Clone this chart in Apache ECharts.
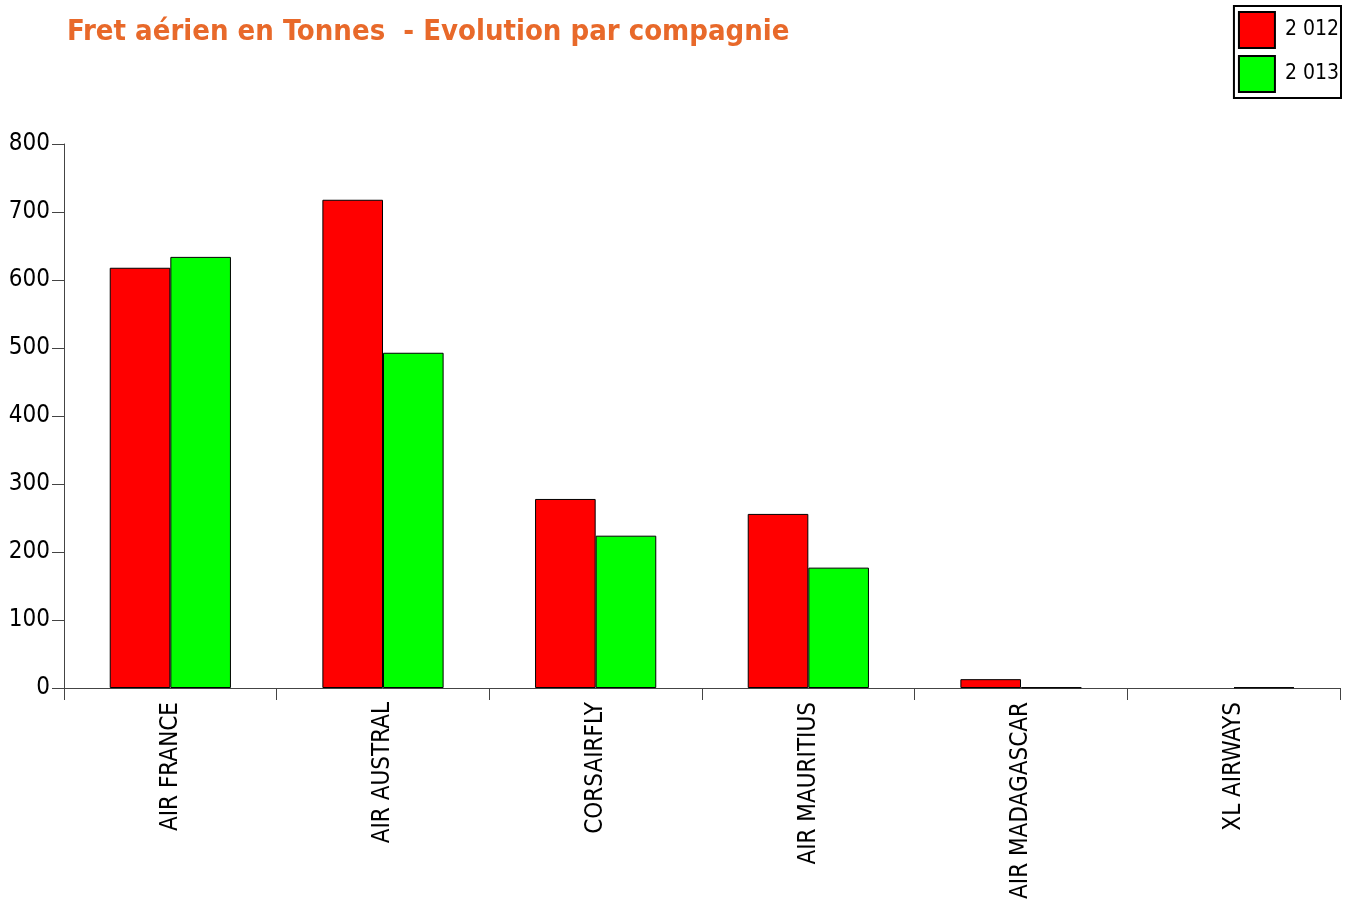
<!DOCTYPE html>
<html>
<head>
<meta charset="utf-8">
<script src="https://cdn.jsdelivr.net/npm/echarts@6/dist/echarts.min.js"></script>
<style>
  html, body { margin: 0; padding: 0; background: #fff; }
  #box { width: 1351px; height: 904px; }
</style>
</head>
<body>
<div id="box"></div>
<script>
// compagnies
var companies = ['AIR FRANCE', 'AIR AUSTRAL', 'CORSAIRFLY', 'AIR MAURITIUS', 'AIR MADAGASCAR', 'XL AIRWAYS'];
// fret en tonnes (null = pas de barre)
var fret2012 = [618, 718, 278, 256, 13, null];
var fret2013 = [634, 493, 224, 177, 1, 1];
var yearNames = ['2 012', '2 013'];

var chart = echarts.init(document.getElementById('box'));
var font = 'DejaVu Sans Condensed';
var axisColor = '#444';

var option = {
  animation: false,
  title: {
    text: 'Fret aérien en Tonnes  - Evolution par compagnie',
    left: 62,
    top: 13,
    textStyle: {
      color: '#E8692A',
      fontFamily: 'DejaVu Sans Condensed',
      fontWeight: 'bold',
      fontSize: 29
    }
  },
  legend: {
    orient: 'vertical',
    right: 10,
    top: 6,
    padding: [5, 2, 5, 4],
    itemGap: 6,
    itemWidth: 36,
    itemHeight: 36,
    icon: 'rect',
    borderColor: '#000',
    borderWidth: 2,
    textStyle: { fontFamily: font, fontSize: 21, color: '#000', padding: [0, 0, 0, 5] },
    data: yearNames
  },
  grid: { left: 64, right: 11, top: 144, bottom: 216 },
  xAxis: {
    type: 'category',
    data: companies,
    axisLine: { lineStyle: { color: axisColor } },
    axisTick: { show: true, length: 12, lineStyle: { color: axisColor } },
    axisLabel: {
      rotate: 90,
      margin: 14,
      color: '#000',
      fontFamily: font,
      fontSize: 24,
      interval: 0
    }
  },
  yAxis: {
    type: 'value',
    min: 0,
    max: 800,
    interval: 100,
    splitLine: { show: false },
    axisLine: { show: true, lineStyle: { color: axisColor } },
    axisTick: { show: true, length: 12, lineStyle: { color: axisColor } },
    axisLabel: { margin: 14, color: '#000', fontFamily: font, fontSize: 24 }
  },
  series: [{
    name: yearNames[0],
    type: 'bar',
    data: fret2012,
    barGap: '0%',
    barCategoryGap: '43%',
    itemStyle: { color: '#FF0000', borderColor: '#000', borderWidth: 1 }
  }, {
    name: yearNames[1],
    type: 'bar',
    data: fret2013,
    itemStyle: { color: '#00FF00', borderColor: '#000', borderWidth: 1 }
  }]
};
chart.setOption(option);
</script>
</body>
</html>
